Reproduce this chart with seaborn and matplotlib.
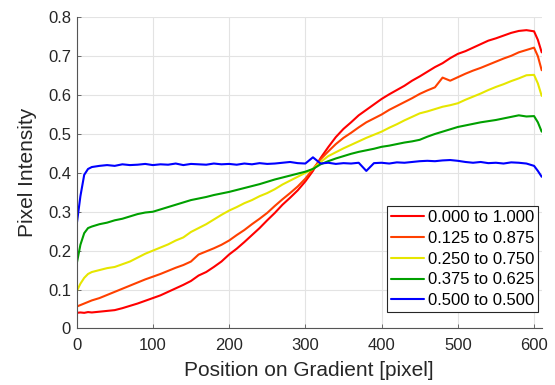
import numpy as np
import pandas as pd
import matplotlib
matplotlib.use("Agg")
import matplotlib.pyplot as plt
import seaborn as sns

x = [0, 5, 10, 15, 20] + list(range(30, 601, 10)) + [605, 610]

red = [0.040, 0.041, 0.040, 0.042, 0.041,
       0.043, 0.045, 0.047, 0.052, 0.058, 0.064, 0.071, 0.078, 0.085, 0.094,
       0.103, 0.112, 0.122, 0.136, 0.145, 0.158, 0.172, 0.190, 0.205, 0.222,
       0.240, 0.258, 0.278, 0.297, 0.318, 0.336, 0.355, 0.378, 0.405, 0.438,
       0.466, 0.492, 0.513, 0.530, 0.548, 0.562, 0.576, 0.590, 0.602, 0.613,
       0.624, 0.637, 0.648, 0.660, 0.672, 0.682, 0.695, 0.706, 0.713, 0.722,
       0.731, 0.740, 0.746, 0.753, 0.760, 0.765, 0.767, 0.764,
       0.742, 0.710]

orange = [0.056, 0.060, 0.064, 0.068, 0.072,
          0.078, 0.086, 0.094, 0.102, 0.110, 0.118, 0.126, 0.133, 0.140, 0.148,
          0.156, 0.163, 0.172, 0.190, 0.198, 0.206, 0.215, 0.226, 0.240, 0.253,
          0.268, 0.282, 0.297, 0.315, 0.332, 0.348, 0.365, 0.385, 0.410, 0.435,
          0.455, 0.474, 0.490, 0.503, 0.517, 0.530, 0.540, 0.550, 0.562, 0.572,
          0.582, 0.592, 0.603, 0.612, 0.620, 0.645, 0.637, 0.646, 0.655, 0.663,
          0.670, 0.678, 0.686, 0.694, 0.701, 0.710, 0.716, 0.722,
          0.700, 0.664]

yellow = [0.095, 0.115, 0.130, 0.140, 0.145,
          0.150, 0.155, 0.158, 0.165, 0.172, 0.182, 0.192, 0.200, 0.208, 0.216,
          0.226, 0.234, 0.248, 0.258, 0.268, 0.280, 0.292, 0.303, 0.312, 0.322,
          0.330, 0.340, 0.348, 0.358, 0.370, 0.380, 0.390, 0.400, 0.410, 0.428,
          0.443, 0.453, 0.463, 0.472, 0.481, 0.490, 0.498, 0.506, 0.516, 0.525,
          0.535, 0.544, 0.553, 0.558, 0.564, 0.570, 0.574, 0.579, 0.588, 0.596,
          0.604, 0.613, 0.621, 0.628, 0.636, 0.643, 0.651, 0.652,
          0.630, 0.598]

green = [0.165, 0.215, 0.245, 0.258, 0.262,
         0.268, 0.272, 0.278, 0.282, 0.288, 0.294, 0.298, 0.300, 0.306, 0.312,
         0.318, 0.324, 0.330, 0.334, 0.338, 0.343, 0.347, 0.351, 0.356, 0.361,
         0.366, 0.371, 0.377, 0.383, 0.388, 0.393, 0.398, 0.403, 0.410, 0.422,
         0.430, 0.437, 0.443, 0.449, 0.454, 0.458, 0.462, 0.467, 0.470, 0.474,
         0.478, 0.481, 0.485, 0.493, 0.500, 0.506, 0.512, 0.518, 0.522, 0.526,
         0.530, 0.533, 0.536, 0.540, 0.544, 0.548, 0.545, 0.546,
         0.530, 0.506]

blue = [0.265, 0.340, 0.395, 0.410, 0.415,
        0.418, 0.420, 0.418, 0.422, 0.420, 0.421, 0.423, 0.420, 0.422, 0.421,
        0.424, 0.420, 0.423, 0.422, 0.421, 0.424, 0.422, 0.423, 0.421, 0.424,
        0.422, 0.425, 0.423, 0.424, 0.426, 0.428, 0.425, 0.424, 0.440, 0.424,
        0.426, 0.423, 0.425, 0.424, 0.426, 0.405, 0.425, 0.426, 0.424, 0.427,
        0.426, 0.428, 0.430, 0.431, 0.430, 0.432, 0.433, 0.431, 0.428, 0.426,
        0.428, 0.425, 0.426, 0.424, 0.427, 0.426, 0.424, 0.418,
        0.405, 0.390]

labels = ["0.000 to 1.000", "0.125 to 0.875", "0.250 to 0.750",
          "0.375 to 0.625", "0.500 to 0.500"]
colors = ["#ff0000", "#ff4000", "#e6e600", "#00a000", "#0000ff"]
x_ticks = [0, 100, 200, 300, 400, 500, 600]
y_ticks = [0, 0.1, 0.2, 0.3, 0.4, 0.5, 0.6, 0.7, 0.8]
y_tick_labels = ["0", "0.1", "0.2", "0.3", "0.4", "0.5", "0.6", "0.7", "0.8"]

series = [red, orange, yellow, green, blue]
df = pd.concat([pd.DataFrame({"x": x, "y": s, "series": lab})
                for s, lab in zip(series, labels)], ignore_index=True)

sns.set_style("whitegrid")
plt.rcParams["font.family"] = ["Liberation Sans", "DejaVu Sans"]

fig = plt.figure(figsize=(5.55, 3.85), dpi=100)
ax = fig.add_axes([0.138, 0.147, 0.838, 0.808])

sns.lineplot(data=df, x="x", y="y", hue="series", hue_order=labels,
             palette=colors, estimator=None, linewidth=1.5, ax=ax)

ax.set_xlim(0, 610)
ax.set_ylim(0, 0.8)
ax.set_xticks(x_ticks)
ax.set_yticks(y_ticks)
ax.set_yticklabels(y_tick_labels)
ax.grid(True, color="#e3e3e3", linewidth=0.8)
for side in ["top", "right"]:
    ax.spines[side].set_visible(False)
for side in ["left", "bottom"]:
    ax.spines[side].set_color("#555555")
    ax.spines[side].set_linewidth(0.8)
ax.tick_params(axis="both", direction="in", length=3, width=0.6,
               colors="#555555", labelcolor="#262626", labelsize=12,
               left=True, bottom=True)
ax.tick_params(axis="y", pad=4)
ax.tick_params(axis="x", pad=7)
ax.set_xlabel("Position on Gradient [pixel]", fontsize=15, color="#262626",
              labelpad=6)
ax.set_ylabel("Pixel Intensity", fontsize=15, color="#262626", labelpad=8)

leg = ax.legend(loc="lower right", bbox_to_anchor=(0.9927, 0.0514),
                borderaxespad=0, fontsize=12, frameon=True, fancybox=False,
                handlelength=2.0, handletextpad=0.2, labelspacing=0.35,
                borderpad=0.25)
leg.get_frame().set_edgecolor("#262626")
leg.get_frame().set_linewidth(0.8)
leg.get_frame().set_alpha(1)
for t in leg.get_texts():
    t.set_color("#000000")

fig.savefig("out.png", dpi=100)
